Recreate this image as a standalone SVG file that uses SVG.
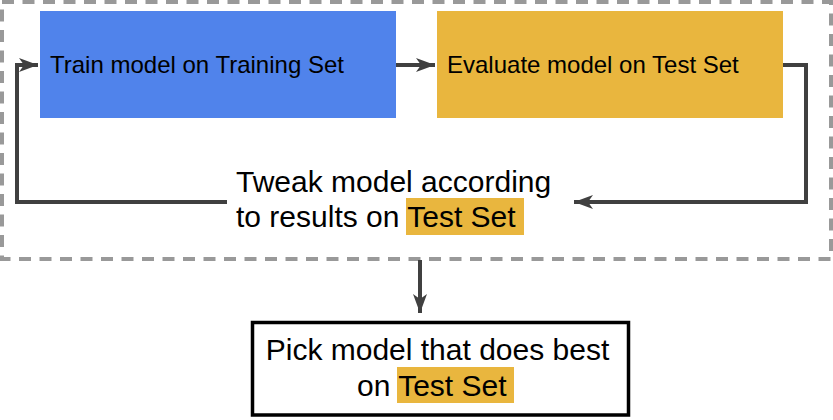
<svg xmlns="http://www.w3.org/2000/svg" width="833" height="420" viewBox="0 0 833 420">
  <style>
    .txt { font-family: "Liberation Sans", Arial, sans-serif; fill: #000; }
    .t24 { font-size: 24px; }
    .t30 { font-size: 30px; }
    .conn { fill: none; stroke: #404040; stroke-width: 4; }
    .hl { fill: #E9B63E; }
  </style>
  <defs>
    <marker id="arr" markerUnits="userSpaceOnUse" viewBox="-20 -8 21 16" markerWidth="21" markerHeight="16" refX="0" refY="0" orient="auto">
      <path d="M0,0 L-19,-7 L-14,0 L-19,7 Z" fill="#404040"/>
    </marker>
  </defs>
  <rect id="loop-frame" x="2" y="2" width="829" height="257" fill="none" stroke="#999999" stroke-width="4" stroke-dasharray="12 8.5"/>
  <g id="connectors">
    <path class="conn" d="M396,65 L435,65" marker-end="url(#arr)"/>
    <path class="conn" d="M783,65 L806,65 L806,202 L574,202" marker-end="url(#arr)"/>
    <path class="conn" d="M227,202 L17,202 L17,65 L38,65" marker-end="url(#arr)"/>
    <path class="conn" d="M420,260 L420,313" marker-end="url(#arr)"/>
  </g>
  <g id="train">
    <rect x="40" y="11" width="356" height="107" fill="#5083EB"/>
    <text class="txt t24" x="50" y="73">Train model on Training Set</text>
  </g>
  <g id="evaluate">
    <rect x="437" y="11" width="346" height="107" fill="#E9B63E"/>
    <text class="txt t24" x="447" y="73">Evaluate model on Test Set</text>
  </g>
  <g id="tweak">
    <rect class="hl" x="406" y="198" width="118" height="37"/>
    <text class="txt t30" x="236" y="192">Tweak model according</text>
    <text class="txt t30" x="236" y="227">to results on Test Set</text>
  </g>
  <g id="pick">
    <rect x="252.5" y="322.5" width="376" height="92.5" fill="#fff" stroke="#000" stroke-width="3.5"/>
    <rect class="hl" x="397" y="367" width="117" height="36"/>
    <text class="txt t30" x="437.5" y="360" text-anchor="middle">Pick model that does best</text>
    <text class="txt t30" x="357" y="396">on Test Set</text>
  </g>
</svg>
